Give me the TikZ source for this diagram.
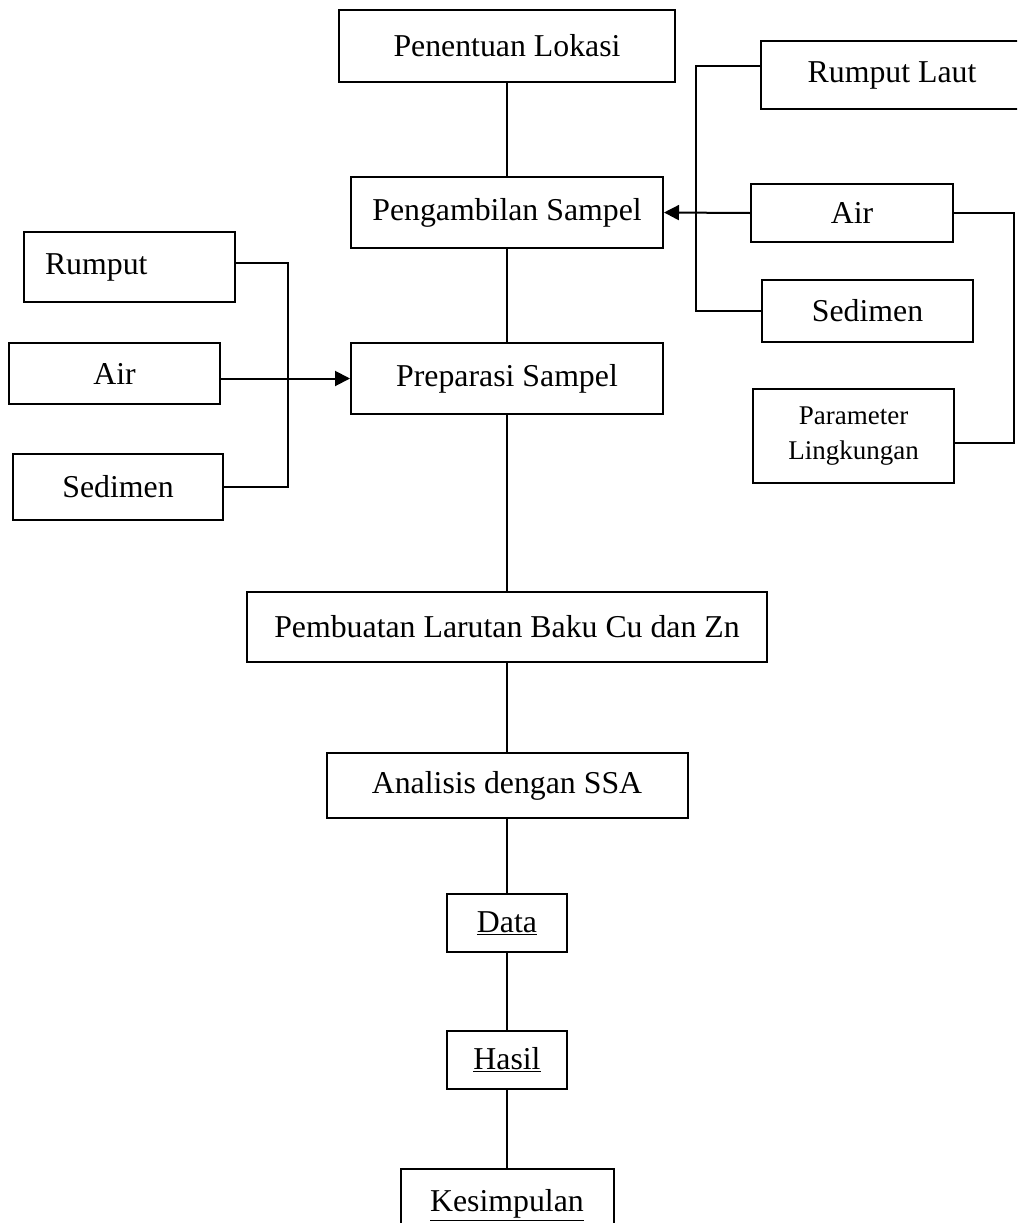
\documentclass[tikz,border=0pt]{standalone}
\usepackage{fontspec}
\setmainfont{Liberation Serif}
\usetikzlibrary{arrows.meta}
\tikzset{
  flowbox/.style={draw=black,line width=2pt,inner sep=0pt,
    minimum height=70pt,font=\fontsize{31.8}{38}\selectfont},
  flowline/.style={line width=2pt},
  flowarrow/.style={flowline,-{Triangle[length=15pt,width=15pt]}}
}

\begin{document}
\begin{tikzpicture}[x=1pt,y=-1pt]
  \useasboundingbox (0,0) rectangle (1017,1223);
  \clip (0,0) rectangle (1017,1223);
  % main column
  \node[flowbox,minimum width=336pt,minimum height=72pt] (lokasi) at (507,46) {Penentuan Lokasi};
  \node[flowbox,minimum width=312pt,minimum height=71pt] (ambil) at (507,212.5) {Pengambilan Sampel};
  \node[flowbox,minimum width=312pt,minimum height=71pt] (prep) at (507,378.5) {Preparasi Sampel};
  \node[flowbox,minimum width=520pt] (baku) at (507,627) {Pembuatan Larutan Baku Cu dan Zn};
  \node[flowbox,minimum width=361pt,minimum height=65pt] (ssa) at (507,785.5) {Analisis dengan SSA};
  \node[flowbox,minimum width=120pt,minimum height=58pt] (data) at (507,923) {\underline{Data}};
  \node[flowbox,minimum width=120pt,minimum height=58pt] (hasil) at (507,1060) {\underline{Hasil}};
  \node[flowbox,minimum width=213pt,minimum height=72pt] (simpul) at (507,1205) {\underline{Kesimpulan}};
  \foreach \a/\b in {lokasi/ambil,ambil/prep,prep/baku,baku/ssa,ssa/data,data/hasil,hasil/simpul}
    \draw[flowline] (\a.south) -- (\b.north);

  % samples taken in the field
  \node[flowbox,minimum width=262pt,minimum height=68pt] (laut) at (892,75) {Rumput Laut};
  \node[flowbox,minimum width=202pt,minimum height=58pt] (airR) at (852,213) {Air};
  \node[flowbox,minimum width=211pt,minimum height=62pt] (sedR) at (867.5,311) {Sedimen};
  \node[flowbox,minimum width=201pt,minimum height=94pt,align=center,
    font=\fontsize{27}{35}\selectfont] (param) at (853.5,436) {Parameter\\Lingkungan};
  \draw[flowline] ([yshift=9pt]laut.west) -- ++(-64,0) |- (sedR.west);
  \draw[flowarrow] (airR.west) -- (ambil.east);
  \draw[flowline] (airR.east) -- ++(60,0) |- ([yshift=-7pt]param.east);

  % samples to prepare
  \node[flowbox,minimum width=211pt,text width=169pt,align=left] (rumput) at (129.5,267) {Rumput};
  \node[flowbox,minimum width=211pt,minimum height=61pt] (airL) at (114.5,373.5) {Air};
  \node[flowbox,minimum width=210pt,minimum height=66pt] (sedL) at (118,487) {Sedimen};
  \draw[flowline] ([yshift=4pt]rumput.east) -- ++(52,0) |- (sedL.east);
  \draw[flowarrow] (airL.east |- prep.west) -- (prep.west);
\end{tikzpicture}
\end{document}
